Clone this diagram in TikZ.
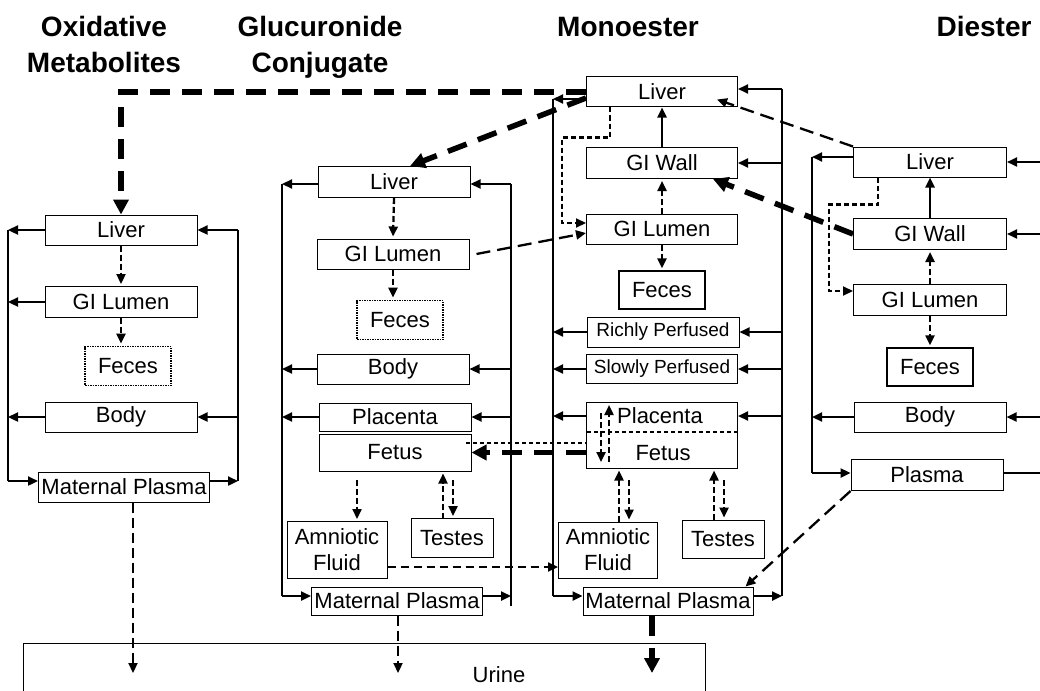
\documentclass[tikz,border=0pt]{standalone}
\usepackage{fontspec}
\setmainfont{Liberation Sans}
\usepackage{tikz}
\usetikzlibrary{
  arrows.meta,
  calc,
  positioning
}
\tikzset{>={Triangle[length=10pt,width=9pt]}}
\tikzset{
  organ/.style={draw,fill=white,line width=1pt,inner sep=0pt,
    minimum width=152pt,minimum height=30pt,
    font=\fontsize{22}{26}\selectfont},
  smallorgan/.style={organ,font=\fontsize{19}{22}\selectfont},
  fecesdot/.style={organ,minimum width=86pt,minimum height=39pt,
    line width=1.8pt,dash pattern=on 1.5pt off 1pt},
  fecesbox/.style={organ,minimum width=86pt,minimum height=38pt,line width=1.4pt},
  lbl/.style={inner sep=0pt,font=\fontsize{22}{26}\selectfont},
  header/.style={font=\fontsize{28}{36}\selectfont\bfseries,align=center,inner sep=0pt},
  wire/.style={line width=1.3pt},
  flow/.style={->,line width=2.3pt},
  shortdash/.style={->,line width=2.3pt,dash pattern=on 6pt off 3pt,shorten >=2pt},
  middash/.style={->,line width=2.2pt,dash pattern=on 8pt off 5pt},
  longdash/.style={->,line width=2.3pt,dash pattern=on 14pt off 7pt},
  urinedash/.style={->,line width=2.2pt,dash pattern=on 10pt off 5pt},
  bigdash/.style={-{Triangle[length=15pt,width=15pt]},line width=5.5pt,
    dash pattern=on 20pt off 12pt},
  dotflow/.style={->,line width=2.1pt,dash pattern=on 5pt off 3pt},
  dotline/.style={line width=1.7pt,dash pattern=on 4pt off 3pt}
}

\begin{document}
\begin{tikzpicture}[x=1pt,y=-1pt]
	\useasboundingbox (0,0) rectangle (1040,690);
	% column titles
	\node[header,anchor=north] (tOx) at (104,16) {Oxidative\\Metabolites};
	\node[header,anchor=north] (tGl) at (320,16) {Glucuronide\\Conjugate};
	\node[header,anchor=base] (tMo) at (628,37) {Monoester};
	\node[header,anchor=base] (tDi) at (984,37) {Diester};

	% oxidative metabolites
	\node[organ] (oxLiver) at (121,230) {Liver};
	\node[organ,minimum height=31pt] (oxLumen) at (121,302) {GI Lumen};
	\node[fecesdot] (oxFeces) at (128,366) {Feces};
	\node[organ] (oxBody) at (121,417) {Body};
	\node[organ,minimum width=171pt] (oxPlasma) at (124,487) {Maternal Plasma};
	\coordinate (oxTL) at (8,230);
	\coordinate (oxBL) at (8,481);
	\coordinate (oxTR) at (238,230);
	\coordinate (oxBR) at (238,481);
	\draw[wire] (oxTL) -- (oxBL);
	\draw[wire] (oxTR) -- (oxBR);
	\draw[flow] (oxLiver.west) -- (oxLiver.west -| oxTL);
	\draw[flow] (oxLiver.east -| oxTR) -- (oxLiver.east);
	\draw[flow] (oxLumen.west) -- (oxLumen.west -| oxTL);
	\draw[flow] (oxBody.west) -- (oxBody.west -| oxTL);
	\draw[flow] (oxBody.east -| oxTR) -- (oxBody.east);
	\draw[flow] (oxBL) -- (oxBL -| oxPlasma.west);
	\draw[flow] (oxBL -| oxPlasma.east) -- (oxBR);
	\draw[shortdash] (oxLiver) -- (oxLumen);
	\draw[shortdash] (oxLumen.south) -- (oxLumen.south |- oxFeces.north);

	% glucuronide conjugate
	\node[organ,minimum height=31pt] (glLiver) at (394,182) {Liver};
	\node[organ] (glLumen) at (393,254) {GI Lumen};
	\node[fecesdot] (glFeces) at (400,320) {Feces};
	\node[organ] (glBody) at (393,369) {Body};
	\node[organ,minimum height=28pt] (glPlacenta) at (395,417) {Placenta};
	\node[organ,minimum height=37pt] (glFetus) at (395,452.5) {Fetus};
	\node[organ,minimum width=100pt,minimum height=57pt,align=center] (glAmnio) at (337,550) {Amniotic\\Fluid};
	\node[organ,minimum width=82pt,minimum height=39pt] (glTestes) at (452,538) {Testes};
	\node[organ,minimum width=171pt,minimum height=28pt] (glPlasma) at (397,601) {Maternal Plasma};
	\coordinate (glTL) at (282,184);
	\coordinate (glBL) at (282,596);
	\coordinate (glTR) at (511,184);
	\coordinate (glBR) at (511,606);
	\draw[wire] (glTL) -- (glBL);
	\draw[wire] (glTR) -- (glBR);
	\draw[flow] (glLiver.west |- glTL) -- (glTL);
	\draw[flow] (glTR) -- (glLiver.east |- glTR);
	\draw[flow] (glBody.west) -- (glBody.west -| glTL);
	\draw[flow] (glBody.east -| glTR) -- (glBody.east);
	\draw[flow] (glPlacenta.west) -- (glPlacenta.west -| glTL);
	\draw[flow] (glPlacenta.east -| glTR) -- (glPlacenta.east);
	\draw[flow] (glBL) -- (glBL -| glPlasma.west);
	\draw[flow] (glPlasma.east |- glBL) -- (glBL -| glTR);
	\draw[shortdash] (glLiver.south) -- (glLumen.north);
	\draw[shortdash] (glLumen.south) -- (glLumen.south |- glFeces.north);
	\coordinate (glA1) at (357,480);
	\draw[shortdash] (glA1) -- (glA1 |- glAmnio.north);
	\coordinate (glT1) at (443,519);
	\coordinate (glT2) at (453,480);
	\draw[shortdash] (glT1) -- (glT1 |- glFetus.south);
	\draw[shortdash] (glT2) -- (glT2 |- glTestes.north);

	% monoester
	\node[organ,minimum width=151pt] (moLiver) at (662,92) {Liver};
	\node[organ,minimum width=151pt,minimum height=31pt] (moWall) at (662,163) {GI Wall};
	\node[organ,minimum width=151pt] (moLumen) at (662,229) {GI Lumen};
	\node[fecesbox] (moFeces) at (662,290) {Feces};
	\node[smallorgan] (moRich) at (663,332) {Richly Perfused};
	\node[smallorgan,minimum width=151pt,minimum height=29pt] (moSlow) at (662,369) {Slowly Perfused};
	\node[organ,minimum width=151pt,minimum height=66pt] (moPF) at (662,435) {};
	\node[lbl] (moPlacenta) at (660,416) {Placenta};
	\node[lbl] (moFetus) at (663,453) {Fetus};
	\node[organ,minimum width=99pt,minimum height=56pt,align=center] (moAmnio) at (608,550) {Amniotic\\Fluid};
	\node[organ,minimum width=82pt,minimum height=38pt] (moTestes) at (723,539) {Testes};
	\node[organ,minimum width=170pt,minimum height=28pt] (moPlasma) at (668,601) {Maternal Plasma};
	\coordinate (moSep) at (587,432);
	\draw[dotline] (moSep) -- (moSep -| moPF.east);
	\coordinate (moTL) at (553,99);
	\coordinate (moBL) at (553,596);
	\coordinate (moTR) at (782,89);
	\coordinate (moBR) at (782,596);
	\draw[wire] (moTL) -- (moBL);
	\draw[wire] (moTR) -- (moBR);
	\draw[flow] (moLiver.west |- moTL) -- (moTL);
	\draw[flow] (moTR) -- (moLiver.east |- moTR);
	\draw[flow] (moWall.east -| moTR) -- (moWall.east);
	\draw[flow] (moRich.west) -- (moRich.west -| moTL);
	\draw[flow] (moRich.east -| moTR) -- (moRich.east);
	\draw[flow] (moSlow.west) -- (moSlow.west -| moTL);
	\draw[flow] (moSlow.east -| moTR) -- (moSlow.east);
	\draw[flow] (moPF.west |- moPlacenta) -- (moPlacenta -| moTL);
	\draw[flow] (moPlacenta -| moTR) -- (moPF.east |- moPlacenta);
	\draw[flow] (moBL) -- (moBL -| moPlasma.west);
	\draw[flow] (moPlasma.east |- moBL) -- (moBR);
	\draw[flow] (moWall) -- (moLiver);
	\draw[shortdash] (moLumen) -- (moWall);
	\draw[shortdash] (moLumen.south) -- (moLumen.south |- moFeces.north);
	\draw[dotflow] ([xshift=-52pt]moLiver.south) -- ++(0,30)
		-| ([xshift=-24pt,yshift=6pt]moLumen.west) -- ([yshift=6pt]moLumen.west);
	\coordinate (moP1) at (601,413);
	\coordinate (moP2) at (601,464);
	\coordinate (moP3) at (609,462);
	\coordinate (moP4) at (609,403);
	\draw[shortdash] (moP1) -- (moP2);
	\draw[shortdash] (moP3) -- (moP4);
	\coordinate (moA1) at (619,522);
	\coordinate (moA2) at (629,480);
	\draw[shortdash] (moA1) -- (moA1 |- moPF.south);
	\draw[shortdash] (moA2) -- (moA2 |- moAmnio.north);
	\coordinate (moT1) at (714,520);
	\coordinate (moT2) at (724,480);
	\draw[shortdash] (moT1) -- (moT1 |- moPF.south);
	\draw[shortdash] (moT2) -- (moT2 |- moTestes.north);

	% diester
	\node[organ,minimum width=153pt] (diLiver) at (930,162) {Liver};
	\node[organ,minimum width=153pt,minimum height=31pt] (diWall) at (930,234) {GI Wall};
	\node[organ,minimum width=153pt,minimum height=31pt] (diLumen) at (930,300) {GI Lumen};
	\node[fecesbox] (diFeces) at (930,367) {Feces};
	\node[organ] (diBody) at (930,417) {Body};
	\node[organ,minimum height=31pt] (diPlasma) at (927,475) {Plasma};
	\coordinate (diTL) at (812,157);
	\coordinate (diBL) at (812,473);
	\coordinate (diR) at (1041,0);
	\draw[wire] (diTL) -- (diBL);
	\draw[flow] (diLiver.west |- diTL) -- (diTL);
	\draw[flow] (diLiver.east -| diR) -- (diLiver.east);
	\draw[flow] (diWall.east -| diR) -- (diWall.east);
	\draw[flow] (diBody.west) -- (diBody.west -| diTL);
	\draw[flow] (diBody.east -| diR) -- (diBody.east);
	\draw[flow] (diBL) -- (diBL -| diPlasma.west);
	\draw[line width=2.3pt] (diPlasma.east |- diBL) -- (diBL -| diR);
	\draw[flow] (diWall) -- (diLiver);
	\draw[shortdash] (diLumen) -- (diWall);
	\draw[shortdash] (diLumen.south) -- (diLumen.south |- diFeces.north);
	\draw[dotflow] ([xshift=-52pt]diLiver.south) -- ++(0,27)
		-| ([xshift=-24pt,yshift=9pt]diLumen.west) -- ([yshift=9pt]diLumen.west);

	% transfers between columns
	\draw[bigdash] (moLiver.west) -| (oxLiver.north);
	\draw[bigdash] ([yshift=-6pt]moLiver.west) -- ([xshift=16pt]glLiver.north);
	\draw[longdash] (diLiver.north west) -- ([xshift=-21pt,yshift=8pt]moLiver.south east);
	\draw[bigdash] (diWall.west) -- ([xshift=-25pt]moWall.south east);
	\draw[longdash] ([xshift=7pt]glLumen.east) -- ([yshift=-4pt]moLumen.west);
	\draw[bigdash] (moPF.west |- glFetus.east) -- (glFetus.east);
	\coordinate (pfLink) at (466,443);
	\draw[dotline] (pfLink) -- (pfLink -| moPF.west);
	\draw[middash] ([yshift=-17pt]glAmnio.east) -- ([yshift=-17pt]moAmnio.west);
	\draw[longdash] (diPlasma.south west) -- ([xshift=-8pt]moPlasma.north east);

	% urine
	\node[draw,line width=1pt,minimum width=682pt,minimum height=80pt,anchor=north west] (urine) at (23,643) {};
	\node[lbl] (urineLbl) at (499,675) {Urine};
	\coordinate (oxDrop) at (133,673);
	\coordinate (glDrop) at (398,673);
	\coordinate (moDrop) at (652,673);
	\draw[urinedash] (oxPlasma.south -| oxDrop) -- (oxDrop);
	\draw[urinedash] (glPlasma.south -| glDrop) -- (glDrop);
	\draw[bigdash] (moPlasma.south -| moDrop) -- (moDrop);
\end{tikzpicture}
\end{document}
